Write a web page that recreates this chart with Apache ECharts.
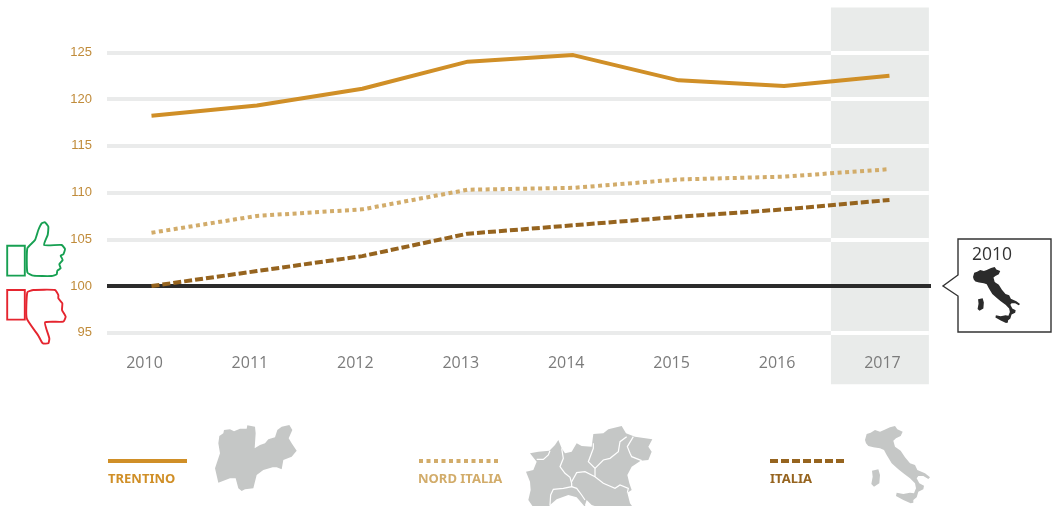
<!DOCTYPE html>
<html><head><meta charset="utf-8">
<style>html,body{margin:0;padding:0;background:#fff}#c{width:1053px;height:506px}</style>
<script src="https://cdn.jsdelivr.net/npm/echarts@6/dist/echarts.min.js"></script>
</head><body><div id="c"></div>
<script>
const years=[2010,2011,2012,2013,2014,2015,2016,2017];
const trentino=[118.2,119.3,121.1,124.0,124.7,122.0,121.4,122.5];
const nordItalia=[105.7,107.5,108.2,110.3,110.5,111.4,111.7,112.5];
const italia=[100,101.6,103.2,105.6,106.5,107.4,108.2,109.2];
const yTicks=[95,105,110,115,120,125];
const yLabels=[95,100,105,110,115,120,125];
const baseline=100;
const xMin=2009.578,xMax=2017.394,bandStart=2016.445,bandEnd=2017.374,yMin=89.5,yMax=129.8;

const C={tr:'#d08f27',no:'#d2ac6a',it:'#96641f',tick:'#c08b3a',grid:'#eaebeb',band:'#e9ebea',axis:'#7b7b7b',ink:'#2b2b2b',map:'#c5c7c6',green:'#17a052',red:'#e5252f'};

function pairs(y,x0,x1,color,w){return [{coord:[x0,y],lineStyle:{color:color,width:w,type:'solid'}},{coord:[x1,y]}];}
const gridSegs=[];
yTicks.forEach(t=>{gridSegs.push(pairs(t,xMin,bandStart,C.grid,4));gridSegs.push(pairs(t,bandStart,bandEnd,'#ffffff',4));});
const line=(name,data,color,type,z)=>({type:'line',name,data:years.map((y,i)=>[y,data[i]]),symbol:'none',smooth:false,z:z,
  lineStyle:{color,width:4,type,cap:'butt',join:'round'},itemStyle:{color},silent:true,animation:false});

const trentinoShape=[[388,78],[400,70],[402,60],[420,58],[432,64],[450,56],[470,56],[472,46],[495,50],[497,70],[494,115],[510,105],[525,100],[535,88],[555,82],[562,60],[575,50],[598,45],[607,60],[596,85],[605,100],[620,122],[605,140],[580,150],[575,178],[560,172],[548,172],[520,180],[500,195],[490,235],[465,238],[455,243],[445,235],[437,205],[420,205],[385,218],[375,175],[390,130],[385,100]];
const nordShape=[[30,100],[55,95],[88,92],[105,75],[115,60],[125,85],[135,100],[155,95],[170,70],[185,78],[215,80],[220,42],[250,40],[265,28],[305,18],[318,40],[345,50],[397,58],[385,80],[395,95],[385,120],[362,122],[335,140],[322,165],[328,190],[335,210],[322,218],[330,250],[345,270],[350,286],[320,286],[300,265],[270,260],[245,265],[215,255],[200,240],[195,255],[200,268],[190,255],[170,232],[145,225],[110,238],[90,255],[65,282],[60,270],[40,262],[25,240],[32,210],[30,185],[18,155],[40,150],[50,125]];
const nordBorders=[[[50,118],[70,118],[85,105],[90,92]],[[125,85],[130,115],[120,140],[135,160],[150,172],[155,190],[155,200],[130,205],[100,208],[92,225],[90,255]],[[155,185],[170,158],[195,155],[225,170],[250,190],[285,205],[300,195],[325,205],[322,218]],[[220,70],[220,85],[205,125],[225,145],[225,170]],[[225,145],[250,120],[270,115],[295,95],[300,65],[320,50]],[[340,50],[322,80],[330,100],[335,110],[365,122]],[[155,200],[170,205],[185,225],[195,240]]];
const italyShape=[[15,60],[20,42],[32,38],[45,30],[60,35],[72,30],[90,22],[105,18],[112,28],[128,35],[122,48],[108,55],[100,62],[105,80],[122,92],[135,112],[150,130],[165,135],[172,150],[195,160],[210,172],[205,177],[190,168],[175,168],[170,175],[178,190],[192,197],[190,208],[175,215],[170,232],[160,240],[160,248],[152,250],[130,240],[108,228],[110,218],[130,222],[150,218],[162,220],[168,205],[165,190],[150,175],[130,160],[115,148],[95,130],[80,105],[72,90],[60,85],[40,82],[25,78],[18,70]];
const sardinia=[[36,152],[55,148],[60,165],[58,190],[42,200],[34,192],[38,170]];
const thumbUp=[[82,100],[105,75],[115,45],[125,25],[135,22],[145,35],[143,60],[132,90],[185,90],[195,102],[190,118],[182,122],[188,135],[178,148],[182,160],[172,167],[170,178],[155,183],[100,182],[82,172]];
const thumbDown=[[82,232],[100,225],[165,225],[175,240],[175,250],[187,265],[186,285],[197,305],[190,320],[135,322],[148,370],[145,385],[128,385],[115,362],[80,310]];
const sc=(pts,ox,oy,k)=>pts.map(p=>[ox+p[0]*k,oy+p[1]*k]);
const poly=(pts,fill,smooth)=>({type:'polygon',shape:{points:pts,smooth:smooth||0},style:{fill:fill},silent:true,z:20});
const text=(x,y,t,col,size,weight,font)=>({type:'text',x:x,y:y,silent:true,z:21,style:{text:t,fill:col,font:(weight||'normal')+' '+size+'px '+(font||'"Open Sans"'),textVerticalAlign:'middle'}});
const lg=(x0,x1,col,dash)=>({type:'line',silent:true,z:20,shape:{x1:x0,y1:461,x2:x1,y2:461},style:{stroke:col,lineWidth:4,lineDash:dash||null}});
const outline=(pts,col)=>({type:'polygon',silent:true,z:20,shape:{points:pts,smooth:0.15},style:{fill:'#fff',stroke:col,lineWidth:1.9}});

const graphics=[
  poly(sc(trentinoShape,90,410,1/3),C.map),
  poly(sc(nordShape,520,420,1/3),C.map),
  ...nordBorders.map(b=>({type:'polyline',silent:true,z:21,shape:{points:sc(b,520,420,1/3)},style:{stroke:'#fff',lineWidth:1.2,fill:null}})),
  poly(sc(italyShape,860,420,1/3),C.map),
  poly(sc(sardinia,860,420,1/3),C.map),
  lg(108,187,C.tr), lg(419,498,C.no,[4,3.5]), lg(770,846,C.it,[8,3]),
  text(108,479.5,'TRENTINO',C.tr,13,'bold','"Noto Sans"'),
  text(418,479.5,'NORD ITALIA',C.no,13,'bold','"Noto Sans"'),
  text(770,479.5,'ITALIA',C.it,13,'bold','"Noto Sans"'),
  // callout
  {type:'polygon',silent:true,z:20,shape:{points:[[958,239],[1051,239],[1051,332],[958,332],[958,296],[943,286],[958,275]]},style:{fill:'#fff',stroke:'#333',lineWidth:1.4}},
  text(972,255,'2010','#333',17.5,'normal'),
  poly(italyShape.map(p=>[973+(p[0]-15)*0.241,267+(p[1]-18)*0.241]),C.ink),
  poly(sardinia.map(p=>[973+(p[0]-15)*0.241,267+(p[1]-18)*0.241]),C.ink),
  // thumbs
  {type:'rect',silent:true,z:20,shape:{x:7.2,y:245.8,width:17.6,height:29.8},style:{fill:'#fff',stroke:C.green,lineWidth:1.9}},
  outline(sc(thumbUp,0,215,1/3),C.green),
  {type:'rect',silent:true,z:20,shape:{x:7.2,y:290,width:17.6,height:29.6},style:{fill:'#fff',stroke:C.red,lineWidth:1.9}},
  outline(sc(thumbDown,0,215,1/3),C.red)
];

const chart=echarts.init(document.getElementById('c'),null,{renderer:'canvas'});
chart.setOption({
  animation:false,
  backgroundColor:'#fff',
  grid:{left:107,right:122,top:7.4,height:376.8,containLabel:false},
  xAxis:{type:'value',min:xMin,max:xMax,offset:-29,z:10,
    axisLine:{show:false},axisTick:{show:false},splitLine:{show:false},
    axisLabel:{customValues:years,formatter:v=>String(Math.round(v)),color:C.axis,fontSize:16,fontFamily:'"Open Sans"',margin:0,padding:[0,14,0,0],hideOverlap:false,showMinLabel:true,showMaxLabel:true}},
  yAxis:{type:'value',min:yMin,max:yMax,z:10,
    axisLine:{show:false},axisTick:{show:false},splitLine:{show:false},
    axisLabel:{customValues:yLabels,formatter:v=>String(Math.round(v)),color:C.tick,fontSize:13,fontFamily:'"Liberation Sans"',margin:15,padding:[4,0,0,0]}},
  series:[
    {type:'line',name:'base',data:[],z:1,silent:true,animation:false,
      markArea:{silent:true,animation:false,itemStyle:{color:C.band},data:[[{coord:[bandStart,yMin]},{coord:[bandEnd,yMax]}]]},
      markLine:{silent:true,animation:false,symbol:'none',label:{show:false},data:gridSegs}},
    {type:'line',name:'rif',data:[],z:2,silent:true,animation:false,
      markLine:{silent:true,animation:false,symbol:'none',label:{show:false},data:[pairs(baseline,xMin,xMax,C.ink,4)]}},
    line('Trentino',trentino,C.tr,'solid',5),
    line('Nord Italia',nordItalia,C.no,[4,3.5],5),
    line('Italia',italia,C.it,[8,3],5)
  ],
  graphic:graphics
});
</script></body></html>
